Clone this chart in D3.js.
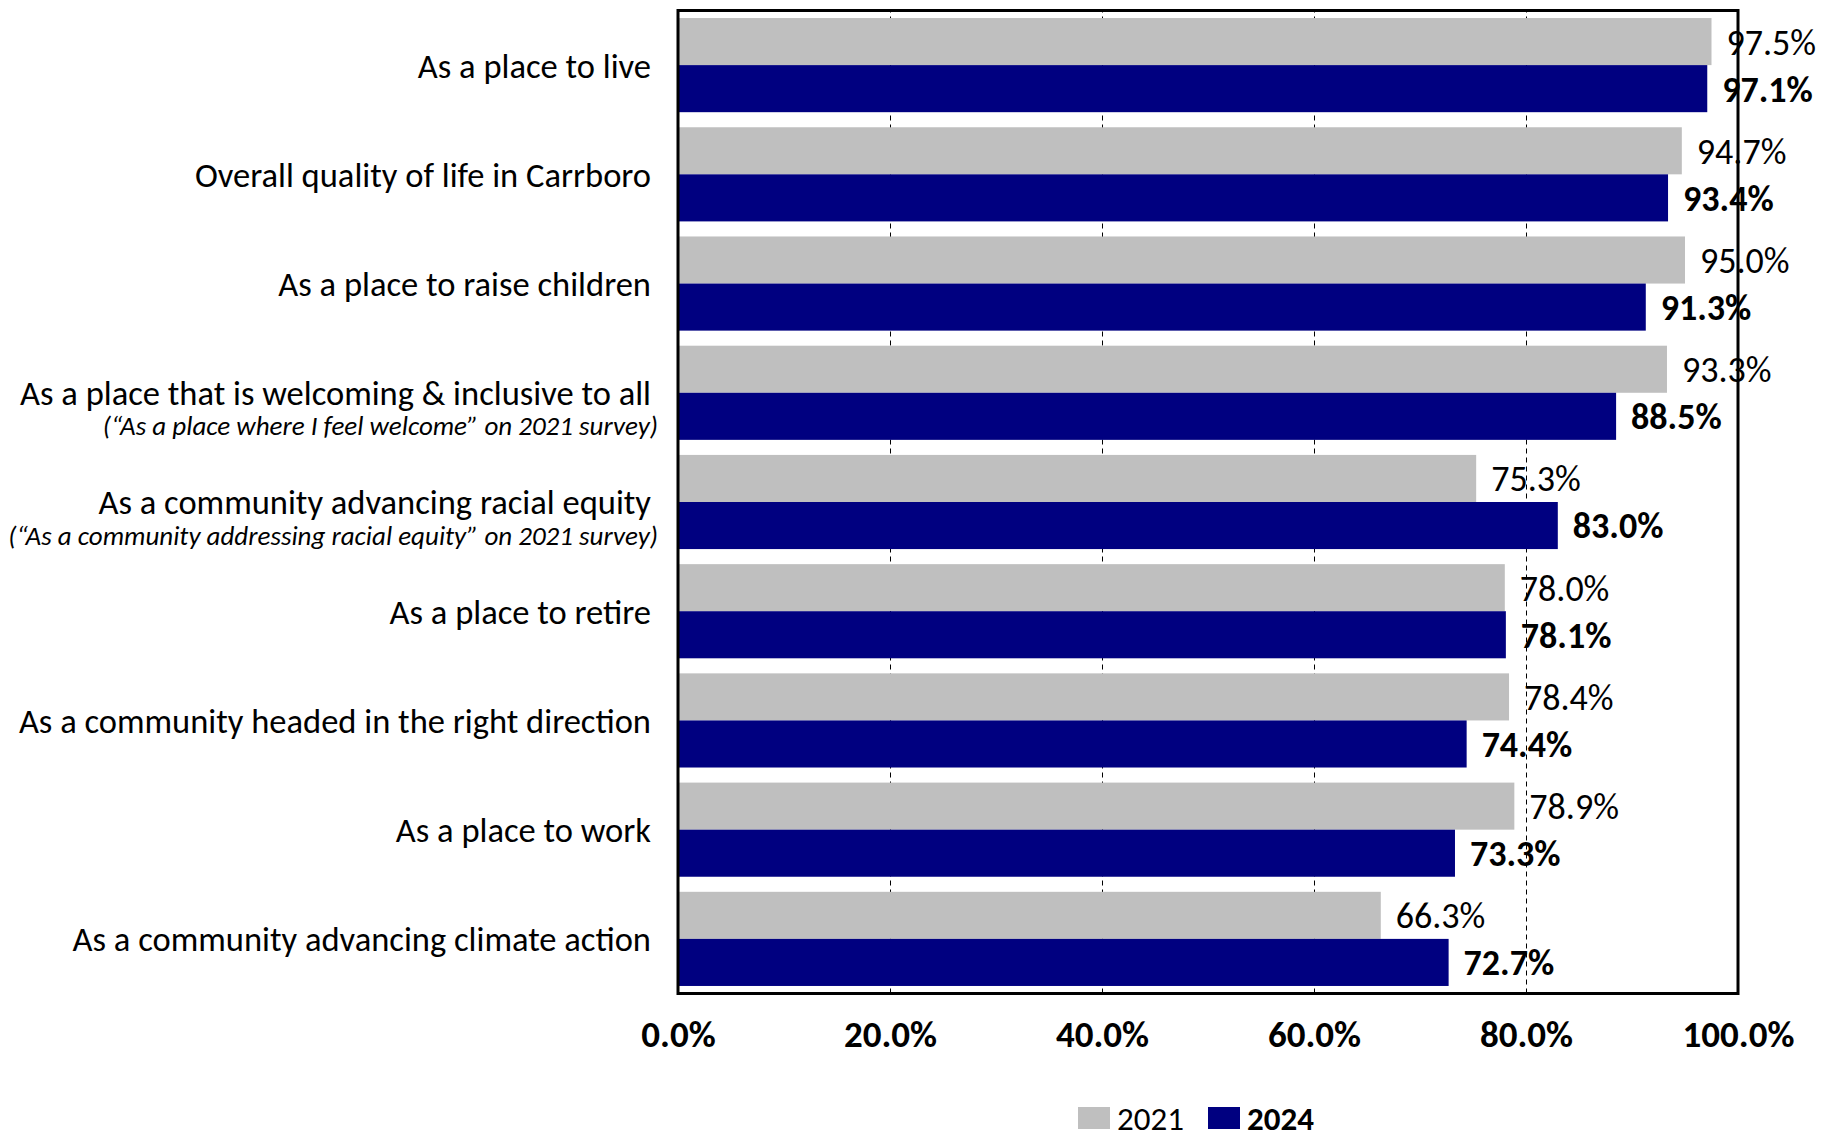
<!DOCTYPE html>
<html>
<head>
<meta charset="utf-8">
<script src="https://cdn.jsdelivr.net/npm/d3@7"></script>
<style>
  html, body { margin: 0; padding: 0; background: #fff; }
  svg { display: block; }
  text { font-family: Calibri, Carlito, Lato, sans-serif; fill: #000; }
</style>
</head>
<body>
<svg id="chart" width="1839" height="1132"></svg>
<script>
// Community ratings, percent positive, by survey year
const categories = [
  "As a place to live",
  "Overall quality of life in Carrboro",
  "As a place to raise children",
  "As a place that is welcoming & inclusive to all",
  "As a community advancing racial equity",
  "As a place to retire",
  "As a community headed in the right direction",
  "As a place to work",
  "As a community advancing climate action"
];
const subtitles = [
  "", "", "",
  "(\u201CAs a place where I feel welcome\u201D on 2021 survey)",
  "(\u201CAs a community addressing racial equity\u201D on 2021 survey)",
  "", "", "", ""
];
const seriesNames = ["2021", "2024"];
const values2021 = [97.5, 94.7, 95.0, 93.3, 75.3, 78.0, 78.4, 78.9, 66.3];
const values2024 = [97.1, 93.4, 91.3, 88.5, 83.0, 78.1, 74.4, 73.3, 72.7];
const tickValues = [0, 20, 40, 60, 80, 100];

const colors = { "2021": "#BFBFBF", "2024": "#000080" };

const svg = d3.select("#chart");
const plot = { left: 678, right: 1738, top: 10.5, bottom: 993.5 };

const x = d3.scaleLinear().domain([0, 100]).range([plot.left, plot.right]);
const y = d3.scaleBand().domain(categories)
  .range([plot.top, plot.bottom])
  .paddingInner(0.138).paddingOuter(0.069);
const ySeries = d3.scaleBand().domain(seriesNames).range([0, y.bandwidth()]);

const rows = categories.map((c, i) => ({
  category: c, sub: subtitles[i],
  vals: [{ s: "2021", v: values2021[i] }, { s: "2024", v: values2024[i] }]
}));

// dashed vertical gridlines behind the bars
svg.append("g")
  .attr("transform", `translate(0,${plot.bottom})`)
  .call(d3.axisBottom(x).tickValues([20, 40, 60, 80]).tickSize(-(plot.bottom - plot.top)).tickFormat(""))
  .call(g => g.select(".domain").remove())
  .call(g => g.selectAll("line").attr("stroke", "#000").attr("stroke-width", 1).attr("stroke-dasharray", "5,4"));

// bars
const groups = svg.append("g").selectAll("g").data(rows).join("g")
  .attr("transform", d => `translate(0,${y(d.category)})`);

groups.selectAll("rect").data(d => d.vals).join("rect")
  .attr("x", x(0))
  .attr("y", d => ySeries(d.s))
  .attr("width", d => x(d.v) - x(0))
  .attr("height", ySeries.bandwidth())
  .attr("fill", d => colors[d.s]);

// value labels
groups.selectAll("text.val").data(d => d.vals).join("text")
  .attr("class", "val")
  .attr("x", d => x(d.v) + 15)
  .attr("y", d => ySeries(d.s) + ySeries.bandwidth() / 2)
  .attr("dy", "0.36em")
  .style("font-size", "36px")
  .style("font-weight", d => d.s === "2024" ? "bold" : "normal")
  .text(d => d.v.toFixed(1) + "%");

// frame around the plot area
svg.append("rect")
  .attr("x", plot.left).attr("y", plot.top)
  .attr("width", plot.right - plot.left).attr("height", plot.bottom - plot.top)
  .attr("fill", "none").attr("stroke", "#000").attr("stroke-width", 3);

// category labels
const labels = svg.append("g").selectAll("g").data(rows).join("g")
  .attr("transform", d => `translate(651,${y(d.category) + y.bandwidth() / 2})`);
labels.append("text")
  .attr("text-anchor", "end")
  .attr("dy", "0.36em")
  .style("font-size", "34.5px")
  .text(d => d.category);
labels.filter(d => d.sub).append("text")
  .attr("text-anchor", "end")
  .attr("x", 7)
  .attr("y", 33)
  .attr("dy", "0.36em")
  .style("font-size", "27px")
  .style("font-style", "italic")
  .text(d => d.sub);

// x axis tick labels
svg.append("g")
  .attr("transform", `translate(0,${plot.bottom})`)
  .call(d3.axisBottom(x).tickValues(tickValues).tickSize(0).tickPadding(27)
    .tickFormat(d => d.toFixed(1) + "%"))
  .call(g => g.select(".domain").remove())
  .call(g => g.selectAll("text")
    .style("font-family", "Calibri, Carlito, Lato, sans-serif")
    .style("font-size", "37px").style("font-weight", "bold").attr("fill", "#000"));

// legend
const legend = svg.append("g").attr("transform", "translate(1078,1107)");
const legendItems = legend.selectAll("g").data(seriesNames).join("g")
  .attr("transform", (d, i) => `translate(${i * 130},0)`);
legendItems.append("rect")
  .attr("width", 32).attr("height", 22)
  .attr("fill", d => colors[d]);
legendItems.append("text")
  .attr("x", 39).attr("y", 11).attr("dy", "0.36em")
  .style("font-size", "33px")
  .style("font-weight", d => d === "2024" ? "bold" : "normal")
  .text(d => d);
</script>
</body>
</html>
